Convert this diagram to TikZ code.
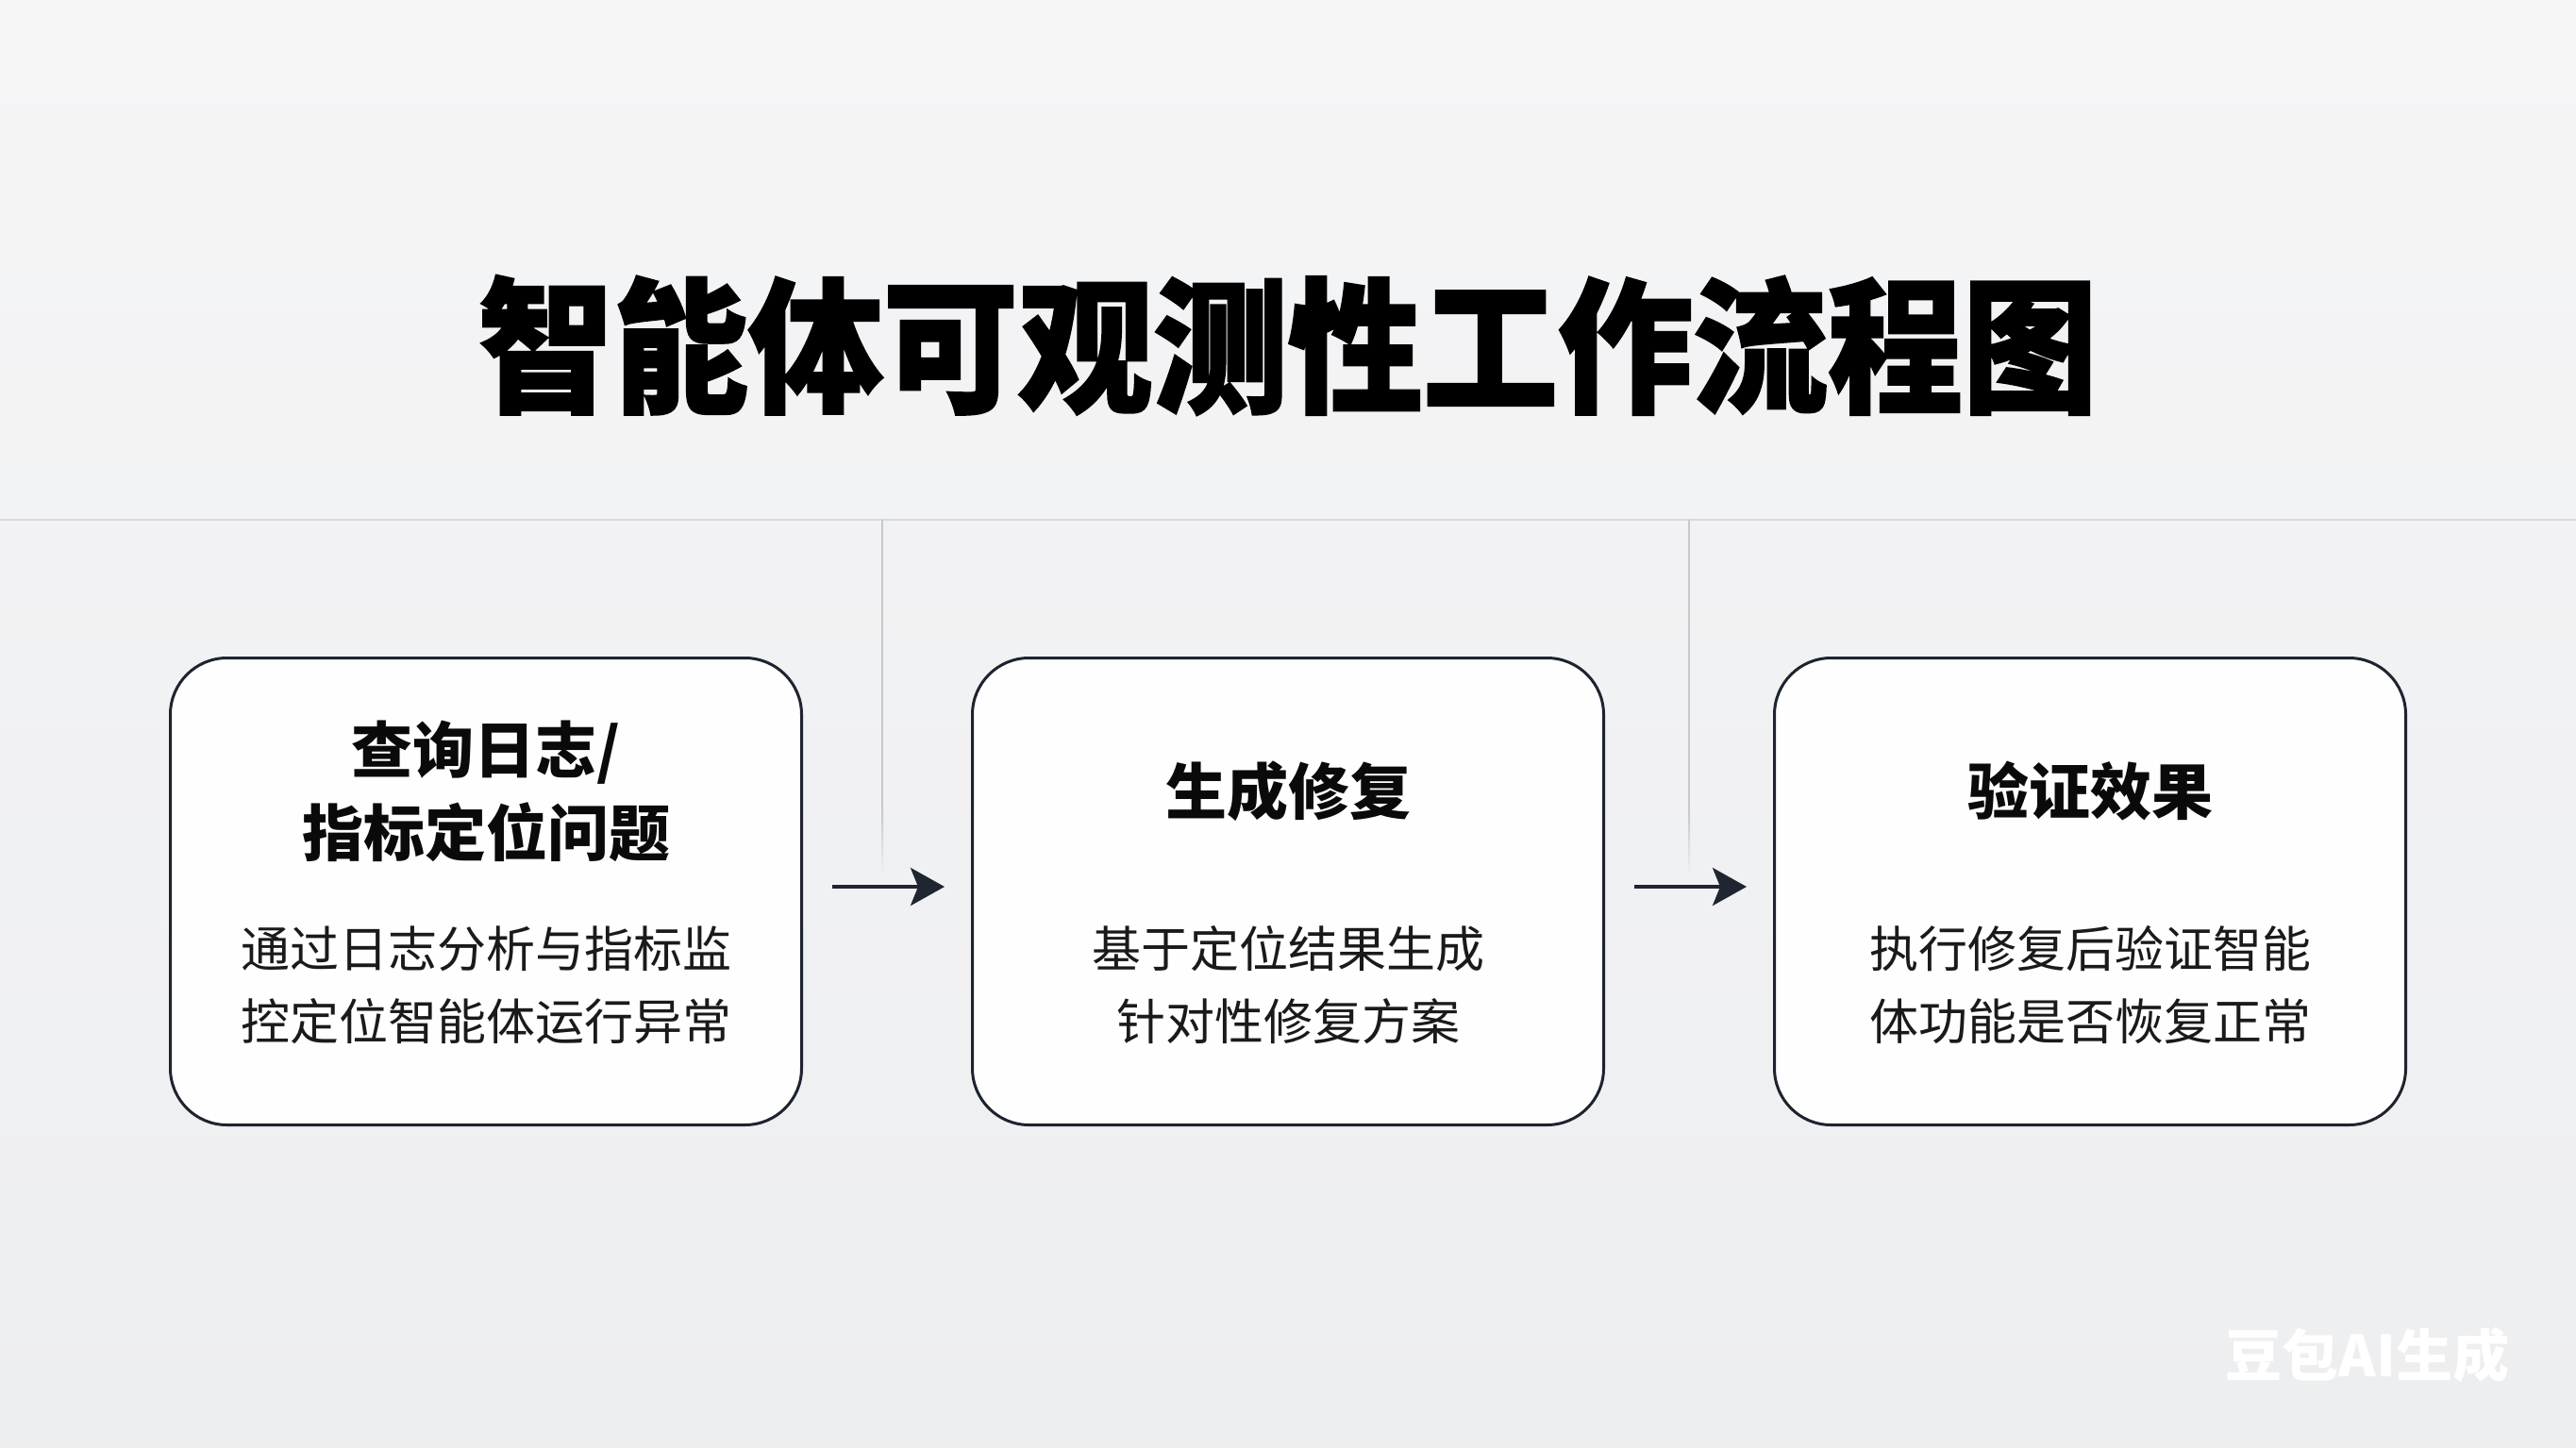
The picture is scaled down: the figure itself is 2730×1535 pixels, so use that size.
\documentclass[tikz,border=0pt]{standalone}
\usepackage{fontspec}
\usepackage{graphicx}
\usetikzlibrary{arrows.meta}
\newfontfamily\cjk{Noto Sans CJK SC}
\newfontfamily\cjktitle{Noto Sans CJK SC}[BoldFeatures={FakeBold=1.6}]
\definecolor{bgtop}{HTML}{F5F5F6}
\definecolor{bgbot}{HTML}{EDEEF0}
\definecolor{hline}{HTML}{D7D9DC}
\definecolor{vline}{HTML}{C6C9CE}
\definecolor{boxdraw}{HTML}{1E2330}
\definecolor{boxfill}{HTML}{FEFEFE}
\definecolor{arrowc}{HTML}{1F2531}
\definecolor{headc}{HTML}{0A0A0A}
\definecolor{descc}{HTML}{1A1A1A}
\tikzset{
  stepbox/.style={draw=boxdraw, fill=boxfill, line width=1.5pt, rounded corners=30pt,
    minimum width=334.5pt, minimum height=247.5pt, inner sep=0pt},
  headtext/.style={text=headc, align=center, inner sep=0pt,
    font=\cjk\bfseries\fontsize{32.5pt}{44pt}\selectfont},
  desctext/.style={text=descc, align=center, inner sep=0pt,
    font=\cjk\fontsize{26pt}{38.5pt}\selectfont},
  flowarrow/.style={draw=arrowc, line width=2pt,
    -{Stealth[length=18pt,width=20pt,inset=4pt]}},
  guideline/.style={draw=vline, line width=1pt},
}
\begin{document}
\begin{tikzpicture}[x=0.5pt,y=-0.5pt]
% background
\shade[top color=bgtop, bottom color=bgbot] (0,0) rectangle (2730,1535);
\useasboundingbox (0,0) rectangle (2730,1535);

% title
\node (title) at (1365,366) {\scalebox{1}[1.08]{\cjktitle\bfseries\fontsize{71.5pt}{80pt}\selectfont 智能体可观测性工作流程图}};

% horizontal rule
\coordinate (hl) at (0,551);
\coordinate (hr) at (2730,551);
\draw[draw=hline, line width=1pt] (hl) -- (hr);

% vertical guide lines
\coordinate (v1t) at (935,551);
\coordinate (v1m) at (935,860);
\coordinate (v2t) at (1790,551);
\coordinate (v2m) at (1790,860);
\draw[guideline] (v1t) -- (v1m);
\draw[guideline] (v2t) -- (v2m);
\shade[top color=vline, bottom color=bgtop!60!bgbot] (934,860) rectangle (936,930);
\shade[top color=vline, bottom color=bgtop!60!bgbot] (1789,860) rectangle (1791,930);

% boxes
\node[stepbox] (b1) at (515,945) {};
\node[stepbox] (b2) at (1365,945) {};
\node[stepbox] (b3) at (2215,945) {};

% headings
\node[headtext] (h1) at (515,839) {查询日志/\\指标定位问题};
\node[headtext] (h2) at (1365,839) {生成修复};
\node[headtext] (h3) at (2215,839) {验证效果};

% descriptions
\node[desctext] (d1) at (515,1044) {通过日志分析与指标监\\控定位智能体运行异常};
\node[desctext] (d2) at (1365,1044) {基于定位结果生成\\针对性修复方案};
\node[desctext] (d3) at (2215,1044) {执行修复后验证智能\\体功能是否恢复正常};

% arrows
\draw[flowarrow, shorten <=15.5pt, shorten >=14pt] ([yshift=2.5pt]b1.east) -- ([yshift=2.5pt]b2.west);
\draw[flowarrow, shorten <=15.5pt, shorten >=14pt] ([yshift=2.5pt]b2.east) -- ([yshift=2.5pt]b3.west);

% watermark
\node[text=white, inner sep=0pt, font=\cjk\bfseries\fontsize{30pt}{30pt}\selectfont] (wm) at (2509,1437) {豆包AI生成};
\end{tikzpicture}
\end{document}
